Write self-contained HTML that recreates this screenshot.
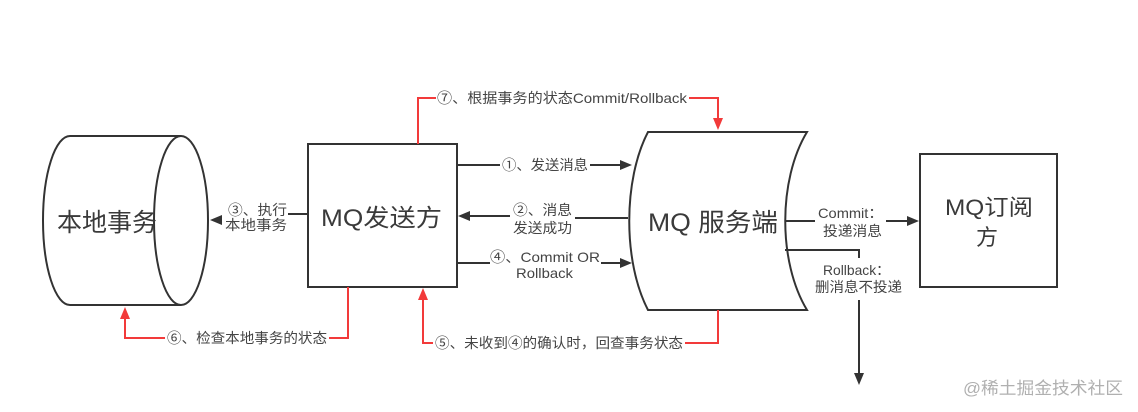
<!DOCTYPE html>
<html><head><meta charset="utf-8"><style>
html,body{margin:0;padding:0;background:#fff;}
svg{display:block;}
text{font-family:"Liberation Sans","Noto Sans CJK SC",sans-serif;fill:#3a3a3a;}
.lb{font-size:14px;fill:#444;}
</style></head><body>
<svg width="1138" height="412" viewBox="0 0 1138 412" xmlns="http://www.w3.org/2000/svg">
<rect width="1138" height="412" fill="#fff"/>
<g fill="none" stroke="#333" stroke-width="2">
  <!-- left cylinder -->
  <path d="M181,136 L70,136 A27,84.5 0 0 0 70,305 L181,305"/>
  <ellipse cx="181" cy="220.5" rx="27" ry="84.5"/>
  <!-- MQ sender box -->
  <rect x="308" y="144" width="149" height="143"/>
  <!-- MQ server shape -->
  <path d="M648,132 L807,132 C778,180 778,262 807,310 L648,310 C623,262 623,180 648,132 Z"/>
  <!-- subscriber box -->
  <rect x="920" y="154" width="137" height="133"/>
  <!-- connectors -->
  <line x1="457" y1="165" x2="500" y2="165"/>
  <line x1="590" y1="165" x2="622" y2="165"/>
  <line x1="628" y1="218" x2="575" y2="218"/>
  <line x1="510" y1="216" x2="468" y2="216"/>
  <line x1="308" y1="214" x2="288" y2="214"/>
  <line x1="457" y1="263" x2="490" y2="263"/>
  <line x1="601" y1="263" x2="622" y2="263"/>
  <line x1="785" y1="221" x2="815" y2="221"/>
  <line x1="886" y1="221" x2="908" y2="221"/>
  <path d="M785,250 L859,250 L859,258"/>
  <line x1="859" y1="300" x2="859" y2="374"/>
</g>
<g fill="#333">
  <polygon points="632,165 620,160 620,170"/>
  <polygon points="458,216 470,211 470,221"/>
  <polygon points="210,220 222,215 222,225"/>
  <polygon points="632,263 620,258 620,268"/>
  <polygon points="919,221 907,216 907,226"/>
  <polygon points="859,385 854,373 864,373"/>
</g>
<g fill="none" stroke="#f23a3a" stroke-width="2">
  <path d="M418,144 L418,98 L436,98"/>
  <path d="M689,98 L718,98 L718,119"/>
  <path d="M348,287 L348,338 L329,338"/>
  <path d="M165,338 L125,338 L125,318"/>
  <path d="M718,310 L718,343 L685,343"/>
  <path d="M433,343 L423,343 L423,299"/>
</g>
<g fill="#f23a3a">
  <polygon points="718,130 713,118 723,118"/>
  <polygon points="125,307 120,319 130,319"/>
  <polygon points="423,288 418,300 428,300"/>
</g>
<!-- node texts -->
<text x="57" y="231" font-size="25" textLength="100" lengthAdjust="spacingAndGlyphs">本地事务</text>
<text x="321" y="226" font-size="24" textLength="121" lengthAdjust="spacingAndGlyphs">MQ发送方</text>
<text x="648" y="231" font-size="25" textLength="130" lengthAdjust="spacingAndGlyphs">MQ 服务端</text>
<text x="945" y="215" font-size="22" textLength="88" lengthAdjust="spacingAndGlyphs">MQ订阅</text>
<text x="976" y="245" font-size="22">方</text>
<!-- labels -->
<text class="lb" x="502" y="170" textLength="86" lengthAdjust="spacingAndGlyphs">①、发送消息</text>
<text class="lb" x="513" y="215" textLength="59" lengthAdjust="spacingAndGlyphs">②、消息</text>
<text class="lb" x="513" y="233" textLength="59" lengthAdjust="spacingAndGlyphs">发送成功</text>
<text class="lb" x="228" y="215" textLength="59" lengthAdjust="spacingAndGlyphs">③、执行</text>
<text class="lb" x="225" y="230" textLength="62" lengthAdjust="spacingAndGlyphs">本地事务</text>
<text class="lb" x="490" y="262" textLength="110" lengthAdjust="spacingAndGlyphs">④、Commit OR</text>
<text class="lb" x="516" y="278" textLength="57" lengthAdjust="spacingAndGlyphs">Rollback</text>
<text class="lb" x="437" y="103" textLength="250" lengthAdjust="spacingAndGlyphs">⑦、根据事务的状态Commit/Rollback</text>
<text class="lb" x="167" y="343" textLength="160" lengthAdjust="spacingAndGlyphs">⑥、检查本地事务的状态</text>
<text class="lb" x="435" y="348" textLength="248" lengthAdjust="spacingAndGlyphs">⑤、未收到④的确认时，回查事务状态</text>
<text class="lb" x="818" y="218" textLength="65" lengthAdjust="spacingAndGlyphs">Commit：</text>
<text class="lb" x="823" y="236" textLength="59" lengthAdjust="spacingAndGlyphs">投递消息</text>
<text class="lb" x="823" y="275" textLength="67" lengthAdjust="spacingAndGlyphs">Rollback：</text>
<text class="lb" x="815" y="292" textLength="87" lengthAdjust="spacingAndGlyphs">删消息不投递</text>
<!-- watermark -->
<text x="963" y="394" font-size="17" style="fill:#b0b0b0" textLength="160" lengthAdjust="spacingAndGlyphs">@稀土掘金技术社区</text>
</svg>
</body></html>
